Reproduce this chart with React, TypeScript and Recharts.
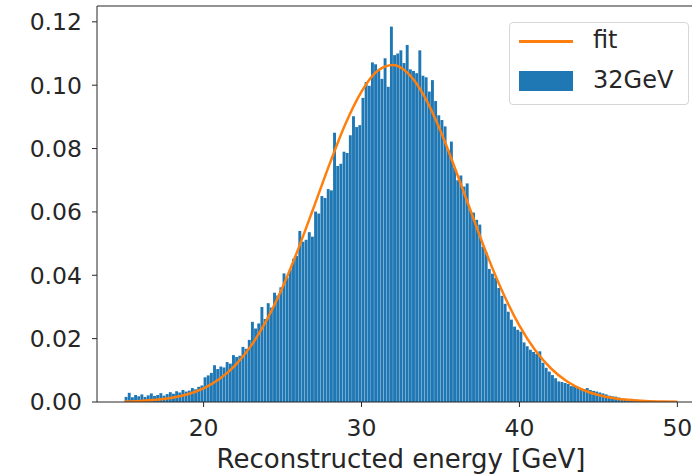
import { ComposedChart, Bar, Line, XAxis, YAxis, ReferenceLine } from 'recharts'

// histogram binning: 0.2 GeV bins starting at 15 GeV
const BIN_LO = 15
const BIN_W = 0.2

// normalised bin contents, one row per GeV (5 bins each)
const counts: number[] = [
  0.0016, 0.0029, 0.0015, 0.0022, 0.0018, // 15
  0.0024, 0.0016, 0.0021, 0.0027, 0.0019, // 16
  0.0022, 0.0028, 0.0020, 0.0025, 0.0031, // 17
  0.0026, 0.0034, 0.0030, 0.0038, 0.0033, // 18
  0.0036, 0.0044, 0.0040, 0.0048, 0.0052, // 19
  0.0078, 0.0084, 0.0092, 0.0116, 0.0104, // 20
  0.0112, 0.0109, 0.0126, 0.0121, 0.0148, // 21
  0.0142, 0.0146, 0.0174, 0.0168, 0.0196, // 22
  0.0253, 0.0232, 0.0248, 0.0300, 0.0262, // 23
  0.0312, 0.0298, 0.0345, 0.0336, 0.0362, // 24
  0.0406, 0.0392, 0.0418, 0.0452, 0.0461, // 25
  0.0540, 0.0506, 0.0512, 0.0536, 0.0522, // 26
  0.0601, 0.0595, 0.0650, 0.0644, 0.0672, // 27
  0.0668, 0.0850, 0.0745, 0.0752, 0.0790, // 28
  0.0786, 0.0842, 0.0902, 0.0868, 0.0874, // 29
  0.0960, 0.1010, 0.0998, 0.1072, 0.1066, // 30
  0.1045, 0.1020, 0.1085, 0.0995, 0.1185, // 31
  0.1095, 0.1100, 0.1110, 0.1070, 0.1127, // 32
  0.1050, 0.1045, 0.1038, 0.1110, 0.1030, // 33
  0.1025, 0.0980, 0.1016, 0.0950, 0.0905, // 34
  0.0890, 0.0870, 0.0795, 0.0822, 0.0740, // 35
  0.0700, 0.0715, 0.0680, 0.0690, 0.0605, // 36
  0.0598, 0.0575, 0.0560, 0.0490, 0.0472, // 37
  0.0420, 0.0405, 0.0392, 0.0360, 0.0335, // 38
  0.0310, 0.0285, 0.0260, 0.0238, 0.0228, // 39
  0.0222, 0.0188, 0.0176, 0.0165, 0.0158, // 40
  0.0152, 0.0160, 0.0124, 0.0108, 0.0096, // 41
  0.0085, 0.0075, 0.0065, 0.0063, 0.0060, // 42
  0.0057, 0.0050, 0.0053, 0.0046, 0.0043, // 43
  0.0041, 0.0044, 0.0038, 0.0035, 0.0033, // 44
  0.0030, 0.0027, 0.0024, 0.0020, 0.0018, // 45
  0.0017, 0.0014, 0.0012, 0.0010, 0.0009, // 46
  0.0010, 0.0008, 0.0007, 0.0006, 0.0006, // 47
  0.0005, 0.0004, 0.0004, 0.0003, 0.0003, // 48
  0.0002, 0.0002, 0.0001, 0.0001, 0.0001, // 49
]

// fitted curve, sampled every GeV
const fitE: number[] = [
  15, 16, 17, 18, 19, 20, 21, 22, 23, 24, 25, 26, 27, 28, 29, 30, 31, 32,
  33, 34, 35, 36, 37, 38, 39, 40, 41, 42, 43, 44, 45, 46, 47, 48, 49, 50,
]
const fitV: number[] = [
  0.00017, 0.00035, 0.0007, 0.00134, 0.00246, 0.00431, 0.00723, 0.01158, 0.01772,
  0.0259, 0.0362, 0.0484, 0.0618, 0.0754, 0.088, 0.098, 0.1045, 0.1064,
  0.1035, 0.0963, 0.0856, 0.0727, 0.0591, 0.0458, 0.034, 0.0241, 0.0163, 0.01058,
  0.00654, 0.00387, 0.00219, 0.00118, 0.00061, 0.0003, 0.00014, 0.00006,
]

const xTicks = [20, 30, 40, 50]
const yTicks = [0, 0.02, 0.04, 0.06, 0.08, 0.1, 0.12]

const BLUE = '#1f77b4'
const ORANGE = '#ff7f0e'
const INK = '#262626'
const FONT = "'DejaVu Sans', sans-serif"
const TICK_PX = 23.5
const BAR_PX = 2.9

const histRows = counts.map((h, i) => ({ e: +(BIN_LO + BIN_W * (i + 0.5)).toFixed(2), h }))
const fitRows = fitE.map((e, i) => ({ e, fit: fitV[i] }))

// keep each bar centred on its bin but nearly as wide as the bin pitch
function HistBar(p: any) {
  if (!p.height) return null
  const cx = p.x + p.width / 2
  return <rect x={cx - BAR_PX / 2} y={p.y} width={BAR_PX} height={p.height} fill={BLUE} />
}

// legend drawn as an overlay so it does not take space from the plot
function LegendBox() {
  return (
    <div
      style={{
        position: 'absolute',
        left: 509,
        top: 22,
        width: 180,
        height: 83,
        boxSizing: 'border-box',
        border: '1px solid #d6d6d6',
        borderRadius: 4,
        background: 'rgba(255,255,255,0.8)',
        fontFamily: FONT,
        fontSize: 24,
        color: INK,
      }}
    >
      <div style={{ position: 'absolute', left: 9, top: 17, width: 54, height: 3, background: ORANGE }} />
      <div style={{ position: 'absolute', left: 83, top: 3, lineHeight: '28px' }}>fit</div>
      <div style={{ position: 'absolute', left: 9, top: 48, width: 54, height: 20, background: BLUE }} />
      <div style={{ position: 'absolute', left: 83, top: 43, lineHeight: '28px' }}>32GeV</div>
    </div>
  )
}

export default function App() {
  return (
    <div style={{ position: 'fixed', left: 0, top: 0, width: 692, height: 476, overflow: 'hidden', background: '#fff' }}>
      <ComposedChart
        width={705}
        height={476}
        data={histRows}
        margin={{ top: 6, right: 0, bottom: 0, left: 0 }}
      >
        <XAxis
          dataKey="e"
          type="number"
          domain={[13.25, 51.75]}
          ticks={xTicks}
          allowDataOverflow
          height={74}
          tickSize={5}
          tickMargin={12}
          stroke={INK}
          tick={{ fill: INK, fontSize: TICK_PX, fontFamily: FONT }}
          label={{
            value: 'Reconstructed energy [GeV]',
            position: 'insideBottom',
            offset: 8,
            fill: INK,
            fontSize: 26,
            fontFamily: FONT,
          }}
        />
        <YAxis
          type="number"
          domain={[0, 0.125]}
          ticks={yTicks}
          allowDataOverflow
          width={97}
          tickSize={5}
          tickMargin={10}
          stroke={INK}
          tick={{ fill: INK, fontSize: TICK_PX, fontFamily: FONT }}
          tickFormatter={(v: number) => v.toFixed(2)}
        />
        <ReferenceLine y={0.125} stroke={INK} strokeWidth={1} />
        <Bar dataKey="h" fill={BLUE} shape={HistBar} isAnimationActive={false} />
        <Line
          data={fitRows}
          dataKey="fit"
          type="monotone"
          stroke={ORANGE}
          strokeWidth={2.5}
          dot={false}
          isAnimationActive={false}
        />
      </ComposedChart>
      <LegendBox />
    </div>
  )
}
